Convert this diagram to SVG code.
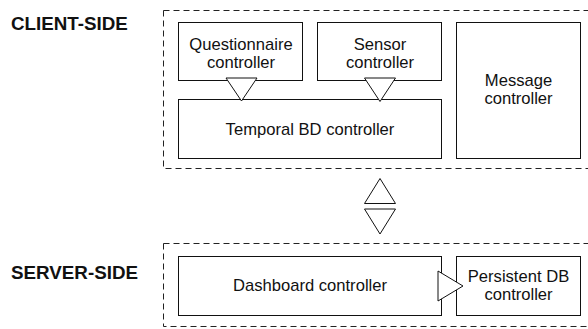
<svg xmlns="http://www.w3.org/2000/svg" width="588" height="329" viewBox="0 0 588 329">
<style>
.bg{fill:#fff}
.zone{fill:none;stroke:#222;stroke-width:1;stroke-dasharray:6,4}
.box{fill:#fff;stroke:#111;stroke-width:1}
.tri{fill:#fff;stroke:#111;stroke-width:1;stroke-linejoin:miter}
.lbl{font-family:"Liberation Sans",Arial,sans-serif;font-size:16.6px;fill:#111;text-anchor:middle}
.side{font-family:"Liberation Sans",Arial,sans-serif;font-size:18.8px;font-weight:bold;fill:#111}
</style>
<rect class="bg" x="0" y="0" width="588" height="329"/>
<g id="client-side">
  <rect class="zone" x="163.5" y="10.5" width="440" height="158"/>
  <text class="side" x="11" y="30">CLIENT-SIDE</text>
</g>
<g id="server-side">
  <rect class="zone" x="163.5" y="243.5" width="440" height="83"/>
  <text class="side" x="11" y="279">SERVER-SIDE</text>
</g>
<g id="questionnaire">
  <rect class="box" x="178.5" y="22.5" width="124" height="58"/>
  <text class="lbl" x="241" y="49.5">Questionnaire</text>
  <text class="lbl" x="241" y="67.5">controller</text>
</g>
<g id="sensor">
  <rect class="box" x="317.5" y="22.5" width="124" height="58"/>
  <text class="lbl" x="380" y="49.5">Sensor</text>
  <text class="lbl" x="380" y="67.5">controller</text>
</g>
<g id="message">
  <rect class="box" x="456.5" y="22.5" width="124" height="136"/>
  <text class="lbl" x="518.5" y="86">Message</text>
  <text class="lbl" x="518.5" y="104">controller</text>
</g>
<g id="temporal">
  <rect class="box" x="178.5" y="99.5" width="263" height="59"/>
  <text class="lbl" x="310" y="135">Temporal BD controller</text>
</g>
<g id="dashboard">
  <rect class="box" x="178.5" y="256.5" width="263" height="59"/>
  <text class="lbl" x="310" y="291">Dashboard controller</text>
</g>
<g id="persistent">
  <rect class="box" x="456.5" y="256.5" width="124" height="59"/>
  <text class="lbl" x="518.5" y="282">Persistent DB</text>
  <text class="lbl" x="518.5" y="300">controller</text>
</g>
<g id="connectors">
  <polygon class="tri" points="226,78 257,78 241.5,101"/>
  <polygon class="tri" points="364.5,78 395.5,78 380,101.5"/>
  <polygon class="tri" points="380,178.5 364.5,203.5 395.5,203.5"/>
  <polygon class="tri" points="364.5,209 395.5,209 380,234"/>
  <polygon class="tri" points="438,271 438,301 463,286"/>
</g>
</svg>
